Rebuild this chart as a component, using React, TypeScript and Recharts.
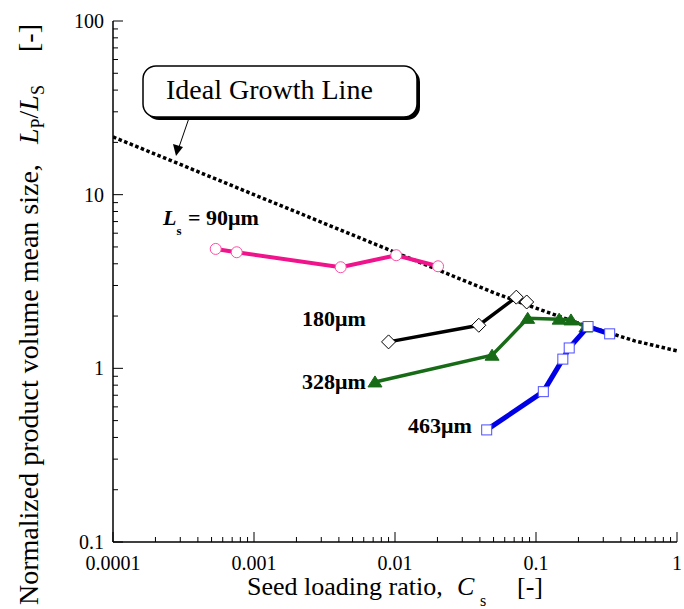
import React from 'react';
import { ComposedChart, Scatter, XAxis, YAxis } from 'recharts';

const W = 684;
const H = 609;
const SERIF = "'Liberation Serif', 'Times New Roman', serif";

// axis ticks
const xMajor = [0.0001, 0.001, 0.01, 0.1, 1];
const xLabels = ['0.0001', '0.001', '0.01', '0.1', '1'];
const yMajor = [0.1, 1, 10, 100];
const yLabels = ['0.1', '1', '10', '100'];
const minorSteps = [2, 3, 4, 5, 6, 7, 8, 9];

// ideal growth line
const idealCs = [0.0001, 0.0002, 0.0005, 0.001, 0.002, 0.005, 0.01, 0.02, 0.05, 0.1, 0.2, 0.5, 1];
const idealRatio = [21.5, 17.1, 12.6, 10.0, 7.95, 5.86, 4.66, 3.7, 2.73, 2.22, 1.82, 1.44, 1.26];

// Ls = 90um
const cs90 = [0.000535, 0.000754, 0.00412, 0.0102, 0.0202];
const ratio90 = [4.87, 4.66, 3.82, 4.48, 3.87];

// Ls = 180um
const cs180 = [0.009, 0.0393, 0.0725, 0.0859];
const ratio180 = [1.42, 1.77, 2.57, 2.41];

// Ls = 328um
const cs328 = [0.00721, 0.0488, 0.0873, 0.146, 0.177, 0.226];
const ratio328 = [0.835, 1.19, 1.94, 1.92, 1.9, 1.73];

// Ls = 463um
const cs463 = [0.0447, 0.1127, 0.155, 0.172, 0.234, 0.333];
const ratio463 = [0.442, 0.734, 1.13, 1.31, 1.74, 1.58];

const zip = (xs: number[], ys: number[]) => xs.map((x, i) => ({ x, y: ys[i] }));
const withMinors = (majors: number[]) =>
    [...majors, ...majors.slice(0, -1).flatMap((d) => minorSteps.map((m) => +(d * m).toPrecision(4)))].sort(
        (a, b) => a - b
    );
const majorIndex = (majors: number[], v: number) => majors.findIndex((m) => Math.abs(m - v) / m < 1e-6);

const xTicks = withMinors(xMajor);
const yTicks = withMinors(yMajor);

const serif = { fontFamily: SERIF };

const makeXTick = (side: 'top' | 'bottom') => (props: any) => {
    const { x, y, payload } = props;
    const i = majorIndex(xMajor, payload.value);
    const len = i >= 0 ? 10 : 5;
    const dir = side === 'bottom' ? -1 : 1;
    return (
        <g>
            <line x1={x} y1={y} x2={x} y2={y + dir * len} stroke="#000" strokeWidth={1} />
            {side === 'bottom' && i >= 0 && (
                <text x={x} y={y + 28} textAnchor="middle" fontSize={20} style={serif} fill="#000">
                    {xLabels[i]}
                </text>
            )}
        </g>
    );
};

const makeYTick = (side: 'left' | 'right') => (props: any) => {
    const { x, y, payload } = props;
    const i = majorIndex(yMajor, payload.value);
    const len = i >= 0 ? 10 : 5;
    const dir = side === 'left' ? 1 : -1;
    return (
        <g>
            <line x1={x} y1={y} x2={x + dir * len} y2={y} stroke="#000" strokeWidth={1} />
            {side === 'left' && i >= 0 && (
                <text x={x - 9} y={y + 7} textAnchor="end" fontSize={20} style={serif} fill="#000">
                    {yLabels[i]}
                </text>
            )}
        </g>
    );
};

const Empty = () => <g />;
const Circle = ({ cx, cy }: any) => <circle cx={cx} cy={cy} r={5.5} fill="#fff" stroke="#ff4da6" strokeWidth={1} />;
const Diamond = ({ cx, cy }: any) => (
    <path d={`M${cx},${cy - 7}L${cx + 7},${cy}L${cx},${cy + 7}L${cx - 7},${cy}Z`} fill="#fff" stroke="#000" strokeWidth={1} />
);
const Triangle = ({ cx, cy }: any) => (
    <path d={`M${cx},${cy - 6}L${cx + 7},${cy + 5}L${cx - 7},${cy + 5}Z`} fill="#176b17" stroke="#176b17" />
);
const Square = ({ cx, cy }: any) => (
    <rect x={cx - 5} y={cy - 5} width={10} height={10} fill="#fff" stroke="#4d4dff" strokeWidth={1} />
);

const labelStyle = { fontFamily: SERIF, fontWeight: 700 };

export default function App() {
    return (
        <div style={{ position: 'absolute', left: 0, top: 0, width: W, height: H, background: '#fff' }}>
            <ComposedChart width={W} height={H} margin={{ top: 21, right: 7, left: 0, bottom: 0 }}>
                <XAxis
                    xAxisId={0}
                    type="number"
                    dataKey="x"
                    scale="log"
                    domain={[0.0001, 1]}
                    allowDataOverflow
                    ticks={xTicks}
                    interval={0}
                    height={67}
                    tickSize={0}
                    tickMargin={0}
                    tickLine={false}
                    axisLine={{ stroke: '#000', strokeWidth: 1.5 }}
                    tick={makeXTick('bottom')}
                />
                <XAxis
                    xAxisId="top"
                    orientation="top"
                    type="number"
                    dataKey="x"
                    scale="log"
                    domain={[0.0001, 1]}
                    allowDataOverflow
                    ticks={xTicks}
                    interval={0}
                    height={0}
                    tickSize={0}
                    tickMargin={0}
                    tickLine={false}
                    axisLine={{ stroke: '#000', strokeWidth: 1.5 }}
                    tick={makeXTick('top')}
                />
                <YAxis
                    yAxisId={0}
                    type="number"
                    dataKey="y"
                    scale="log"
                    domain={[0.1, 100]}
                    allowDataOverflow
                    ticks={yTicks}
                    interval={0}
                    width={113}
                    tickSize={0}
                    tickMargin={0}
                    tickLine={false}
                    axisLine={{ stroke: '#000', strokeWidth: 1.5 }}
                    tick={makeYTick('left')}
                />
                <YAxis
                    yAxisId="right"
                    orientation="right"
                    type="number"
                    dataKey="y"
                    scale="log"
                    domain={[0.1, 100]}
                    allowDataOverflow
                    ticks={yTicks}
                    interval={0}
                    width={0}
                    tickSize={0}
                    tickMargin={0}
                    tickLine={false}
                    axisLine={{ stroke: '#000', strokeWidth: 1.5 }}
                    tick={makeYTick('right')}
                />
                <Scatter
                    data={zip(idealCs, idealRatio)}
                    line={{ stroke: '#000', strokeWidth: 3.5, strokeDasharray: '3.5 2.5' }}
                    shape={Empty}
                    isAnimationActive={false}
                />
                <Scatter
                    data={zip(cs90, ratio90)}
                    line={{ stroke: '#f0148c', strokeWidth: 4 }}
                    shape={Circle}
                    isAnimationActive={false}
                />
                <Scatter
                    data={zip(cs180, ratio180)}
                    line={{ stroke: '#000', strokeWidth: 3.5 }}
                    shape={Diamond}
                    isAnimationActive={false}
                />
                <Scatter
                    data={zip(cs328, ratio328)}
                    line={{ stroke: '#176b17', strokeWidth: 3.5 }}
                    shape={Triangle}
                    isAnimationActive={false}
                />
                <Scatter
                    data={zip(cs463, ratio463)}
                    line={{ stroke: '#0000e6', strokeWidth: 5 }}
                    shape={Square}
                    isAnimationActive={false}
                />
            </ComposedChart>
            <svg
                width={W}
                height={H}
                style={{ position: 'absolute', left: 0, top: 0, pointerEvents: 'none' }}
            >
                {/* callout box */}
                <rect x={146} y={69} width={274} height={51} rx={13} fill="#000" />
                <rect x={143} y={66} width={274} height={51} rx={13} fill="#fff" stroke="#000" strokeWidth={1.5} />
                <text x={166} y={99} fontSize={28} style={serif} fill="#000">
                    Ideal Growth Line
                </text>
                <line x1={189} y1={118} x2={178} y2={150} stroke="#000" strokeWidth={1} />
                <path d="M176,156 L173,144 L183,147 Z" fill="#000" />

                {/* series labels */}
                <text x={163} y={225} fontSize={22} style={labelStyle} fill="#000">
                    <tspan fontStyle="italic">L</tspan>
                    <tspan fontSize={13} dy={10}>s</tspan>
                    <tspan dy={-10} x={188}>= 90μm</tspan>
                </text>
                <text x={302} y={326} fontSize={22} style={labelStyle} fill="#000">180μm</text>
                <text x={302} y={389} fontSize={22} style={labelStyle} fill="#000">328μm</text>
                <text x={408} y={433} fontSize={22} style={labelStyle} fill="#000">463μm</text>

                {/* axis titles */}
                <text x={247} y={595} fontSize={26} style={serif} fill="#000">
                    Seed loading ratio,
                    <tspan x={457} fontStyle="italic">C</tspan>
                    <tspan x={480} dy={11} fontSize={16}>s</tspan>
                    <tspan x={517} dy={-11}>[-]</tspan>
                </text>
                <g transform="translate(38,0) rotate(-90)">
                    <text x={-605} y={0} fontSize={28} style={serif} fill="#000">
                        Normalized product volume mean size,
                        <tspan x={-144} fontStyle="italic">L</tspan>
                        <tspan dy={6} fontSize={18}>P</tspan>
                        <tspan dy={-6}>/</tspan>
                        <tspan fontStyle="italic">L</tspan>
                        <tspan dy={6} fontSize={18}>S</tspan>
                        <tspan dy={-6} x={-52}>[-]</tspan>
                    </text>
                </g>
            </svg>
        </div>
    );
}
